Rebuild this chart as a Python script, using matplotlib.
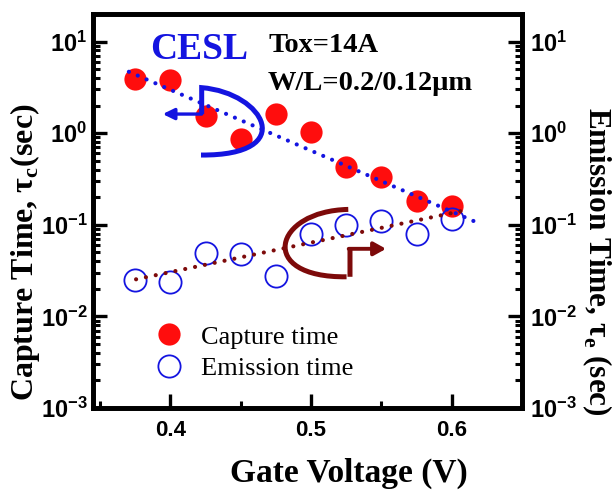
import matplotlib
matplotlib.use("Agg")
import matplotlib.pyplot as plt
import numpy as np
from matplotlib.path import Path
from matplotlib.patches import PathPatch
from matplotlib.lines import Line2D
from matplotlib.ticker import FuncFormatter, LogLocator, MultipleLocator, NullFormatter

plt.rcParams["mathtext.fontset"] = "custom"
plt.rcParams["mathtext.rm"] = "Liberation Serif:bold"
plt.rcParams["mathtext.bf"] = "Liberation Sans:bold"

# ── data ─────────────────────────────────────────────────────────────────────
gate_v = [0.375, 0.400, 0.425, 0.450, 0.475, 0.500, 0.525, 0.550, 0.575, 0.600]
capture_t = [3.89, 3.79, 1.53, 0.853, 1.60, 1.03, 0.428, 0.333, 0.181, 0.160]
emission_t = [0.0247, 0.0235, 0.0492, 0.0476, 0.0274, 0.080, 0.0988, 0.109, 0.080, 0.115]

fit_v_capture = [0.3705, 0.6155]
fit_capture = [4.68, 0.110]
fit_v_emission = [0.3756, 0.612]
fit_emission = [0.0254, 0.1466]

RED = "#FF0D0D"
BLUE = "#1414E0"
BROWN = "#7D0A0A"
SERIF = "Liberation Serif"
SANS = "Liberation Sans"

fig = plt.figure(figsize=(6.14, 4.94), dpi=100)
ax = fig.add_axes([0.1515, 0.1741, 0.6987, 0.7976])
ax2 = ax.twinx()

# capture (left axis)
ax.plot(gate_v, capture_t, "o", ms=16, color=RED, mec=RED, mew=0, zorder=3)
ax.plot(fit_v_capture, fit_capture, color=BLUE, lw=3.0, ls=(0, (0.01, 2.3)),
        dash_capstyle="round", zorder=4)

# emission (right axis)
ax2.plot(gate_v, emission_t, "o", ms=16, mfc="none", mec=BLUE, mew=1.3, zorder=3)
ax2.plot(fit_v_emission, fit_emission, color=BROWN, lw=3.0, ls=(0, (0.01, 2.4)),
         dash_capstyle="round", zorder=4)

for a in (ax, ax2):
    a.set_yscale("log")
    a.set_ylim(1e-3, 20)
    a.yaxis.set_major_locator(LogLocator(base=10))
    a.yaxis.set_minor_locator(LogLocator(base=10, subs=np.arange(2, 10)))
    a.yaxis.set_minor_formatter(NullFormatter())
    a.yaxis.set_major_formatter(
        FuncFormatter(lambda v, p: r"$\mathbf{10^{%d}}$" % round(np.log10(v))))
    for s in a.spines.values():
        s.set_linewidth(3.4)

ax.set_xlim(0.345, 0.65)
ax.xaxis.set_major_locator(MultipleLocator(0.1))
ax.xaxis.set_minor_locator(MultipleLocator(0.05))
ax.xaxis.set_major_formatter(FuncFormatter(lambda v, p: f"{v:.1f}"))

ax.tick_params(axis="both", which="major", direction="in", length=10, width=2.4,
               top=False, right=False)
ax.tick_params(axis="both", which="minor", direction="in", length=5, width=2.2,
               top=False, right=False)
ax.tick_params(axis="y", which="major", pad=4, labelsize=17)
ax.tick_params(axis="x", which="major", pad=9, labelsize=16)
ax2.tick_params(axis="y", which="major", direction="in", length=10, width=2.4,
                pad=6, labelsize=17)
ax2.tick_params(axis="y", which="minor", direction="in", length=5, width=2.2)
for lab in ax.get_xticklabels() + ax.get_yticklabels() + ax2.get_yticklabels():
    lab.set_fontfamily(SANS)
    lab.set_fontweight("bold")

# axis labels
fig.text(0.041, 0.49, "Capture Time, τ$_\\mathrm{c}$(sec)", rotation=90,
         ha="center", va="center", family=SERIF, weight="bold", fontsize=23)
fig.text(0.972, 0.47, "Emission Time, τ$_\\mathrm{e}$ (sec)", rotation=270,
         ha="center", va="center", family=SERIF, weight="bold", fontsize=22.5)
fig.text(0.568, 0.024, "Gate Voltage (V)", ha="center", va="baseline",
         family=SERIF, weight="bold", fontsize=24)

# annotations
ax2.text(0.133, 0.886, "CESL", transform=ax.transAxes, ha="left", va="baseline",
         family=SERIF, weight="bold", fontsize=27, color=BLUE, zorder=6)
ax2.text(0.408, 0.904, "Tox=14A", transform=ax.transAxes, ha="left", va="baseline",
         family=SERIF, weight="bold", fontsize=20.5, zorder=6)
ax2.text(0.408, 0.807, "W/L=0.2/0.12μm", transform=ax.transAxes, ha="left",
         va="baseline", family=SERIF, weight="bold", fontsize=20.5, zorder=6)

# blue bracket pointing to left axis
blue_path = Path([(0.2517, 0.642), (0.48, 0.64), (0.40, 0.80), (0.2533, 0.813),
                  (0.2533, 0.746)],
                 [Path.MOVETO, Path.CURVE4, Path.CURVE4, Path.CURVE4, Path.LINETO])
ax2.add_patch(PathPatch(blue_path, transform=ax.transAxes, fc="none", ec=BLUE,
                        lw=3.6, capstyle="butt", joinstyle="miter", zorder=7))
ax2.annotate("", xy=(0.1624, 0.746), xytext=(0.2533, 0.746), xycoords="axes fraction",
             arrowprops=dict(arrowstyle="-|>,head_length=0.45,head_width=0.22",
                             color=BLUE, lw=2.4, shrinkA=0, shrinkB=0,
                             mutation_scale=15), zorder=7)

# brown bracket pointing to right axis
brown_path = Path([(0.595, 0.504), (0.42, 0.50), (0.38, 0.33), (0.591, 0.333),
                   (0.599, 0.333), (0.599, 0.404)],
                  [Path.MOVETO, Path.CURVE4, Path.CURVE4, Path.CURVE4,
                   Path.MOVETO, Path.LINETO])
ax2.add_patch(PathPatch(brown_path, transform=ax.transAxes, fc="none", ec=BROWN,
                        lw=3.6, capstyle="butt", joinstyle="miter", zorder=7))
ax2.annotate("", xy=(0.683, 0.404), xytext=(0.596, 0.404), xycoords="axes fraction",
             arrowprops=dict(arrowstyle="-|>,head_length=0.45,head_width=0.25",
                             color=BROWN, lw=2.8, shrinkA=0, shrinkB=0,
                             mutation_scale=16), zorder=7)

# legend
handles = [
    Line2D([], [], ls="none", marker="o", ms=16, color=RED, mew=0),
    Line2D([], [], ls="none", marker="o", ms=16, mfc="none", mec=BLUE, mew=1.3),
]
ax2.legend(handles, ["Capture time", "Emission time"], loc="upper left",
           bbox_to_anchor=(0.14, 0.21), frameon=False, borderpad=0, borderaxespad=0,
           handlelength=1.2, handletextpad=0.6, labelspacing=0.3,
           prop=dict(family=SERIF, size=19))

fig.savefig("out.png", dpi=100)
